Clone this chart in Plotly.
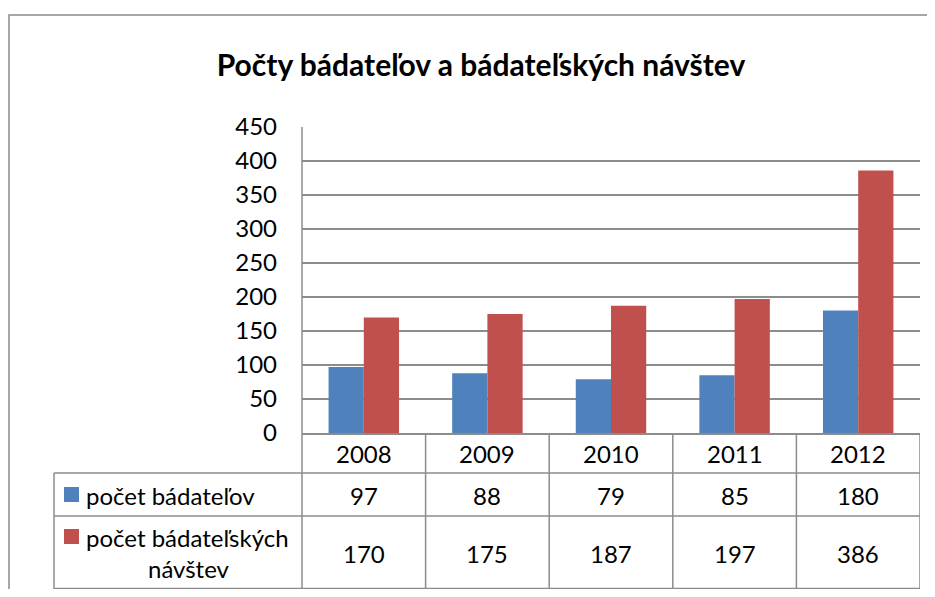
import plotly.graph_objects as go

years = ["2008", "2009", "2010", "2011", "2012"]
series_names = ["počet bádateľov", "počet bádateľských<br>návštev"]
researchers = [97, 88, 79, 85, 180]
visits = [170, 175, 187, 197, 386]
colors = ["#4F81BD", "#C0504D"]
title = "Počty bádateľov a bádateľských návštev"

OFF = 8  # page body margin compensation
W, H = 935 - 2 * OFF, 597 - 2 * OFF
FONT = "Lato, 'Open Sans', sans-serif"
GRID = "#8C8C8C"

def px(x):
    return (x - OFF) / W

def py(y):
    return 1 - (y - OFF) / H

fig = go.Figure()
for name, vals, col in zip(series_names, [researchers, visits], colors):
    fig.add_trace(go.Bar(x=list(range(len(years))), y=vals, name=name,
                         marker=dict(color=col, line=dict(width=0)),
                         hoverinfo="skip", showlegend=False))

plot_l, plot_r, plot_t, plot_b = 302, 920, 127, 433
row1_b, row2_b, row3_b = 473, 516, 589
leg_l = 54

shapes = []
def line(x0, y0, x1, y1, xref="paper"):
    shapes.append(dict(type="line", xref=xref, yref="paper",
                       x0=x0, x1=x1, y0=py(y0), y1=py(y1),
                       line=dict(color=GRID, width=1.5)))

# outer chart border
shapes.append(dict(type="rect", xref="paper", yref="paper",
                   x0=px(9), x1=px(960), y0=py(15), y1=py(620),
                   line=dict(color="#8A8A8A", width=1.5)))
# table horizontal lines
for yy in (row1_b, row2_b):
    line(px(leg_l), yy, px(plot_r), yy)
line(px(leg_l), row3_b - 0.5, px(plot_r), row3_b - 0.5)
# legend col left and plot left
line(px(leg_l), row1_b, px(leg_l), row3_b)
line(px(plot_l), plot_t, px(plot_l), row3_b)
# category column boundaries (data coords)
for i in range(len(years)):
    line(i + 0.5, plot_b, i + 0.5, row3_b, xref="x")

# legend keys
shapes.append(dict(type="rect", xref="paper", yref="paper", x0=px(64), x1=px(79),
                   y0=py(502), y1=py(487), fillcolor=colors[0], line=dict(width=0)))
shapes.append(dict(type="rect", xref="paper", yref="paper", x0=px(64), x1=px(79),
                   y0=py(544), y1=py(529), fillcolor=colors[1], line=dict(width=0)))

ann = []
tf = dict(family=FONT, size=24, color="#000000")
for i, yr in enumerate(years):
    ann.append(dict(x=i, y=py(453), xref="x", yref="paper", text=yr, showarrow=False,
                    font=tf, xanchor="center", yanchor="middle"))
    ann.append(dict(x=i, y=py(495), xref="x", yref="paper", text=str(researchers[i]),
                    showarrow=False, font=tf, xanchor="center", yanchor="middle"))
    ann.append(dict(x=i, y=py(553), xref="x", yref="paper", text=str(visits[i]),
                    showarrow=False, font=tf, xanchor="center", yanchor="middle"))

ann.append(dict(x=px(84), y=py(495), xref="paper", yref="paper", text=series_names[0],
                showarrow=False, font=tf, xanchor="left", yanchor="middle"))
ann.append(dict(x=px(84), y=py(537), xref="paper", yref="paper",
                text=series_names[1].split("<br>")[0],
                showarrow=False, font=tf, xanchor="left", yanchor="middle"))
ann.append(dict(x=px(189), y=py(568), xref="paper", yref="paper",
                text=series_names[1].split("<br>")[1],
                showarrow=False, font=tf, xanchor="center", yanchor="middle"))

fig.update_layout(
    width=W, height=H,
    margin=dict(l=0, r=0, t=0, b=0, autoexpand=False),
    paper_bgcolor="white", plot_bgcolor="white",
    barmode="group", bargap=0.43, bargroupgap=0,
    title=dict(text=f"<b>{title}</b>", x=px(481), xanchor="center",
               y=py(65), yanchor="middle",
               font=dict(family=FONT, size=30, color="#000000")),
    xaxis=dict(domain=[px(plot_l), px(plot_r)], range=[-0.5, len(years) - 0.5],
               showticklabels=False, showgrid=False, zeroline=False,
               showline=True, linecolor=GRID, linewidth=1.5, mirror=False,
               anchor="y", automargin=False),
    yaxis=dict(domain=[py(plot_b), py(plot_t)], range=[0, 450], dtick=50,
               showgrid=True, gridcolor=GRID, gridwidth=1.5, zeroline=False,
               showline=False, ticks="", ticklabelstandoff=24, automargin=False,
               tickfont=dict(family=FONT, size=24, color="#000000")),
    shapes=shapes, annotations=ann,
)

fig.write_html("out.html")
